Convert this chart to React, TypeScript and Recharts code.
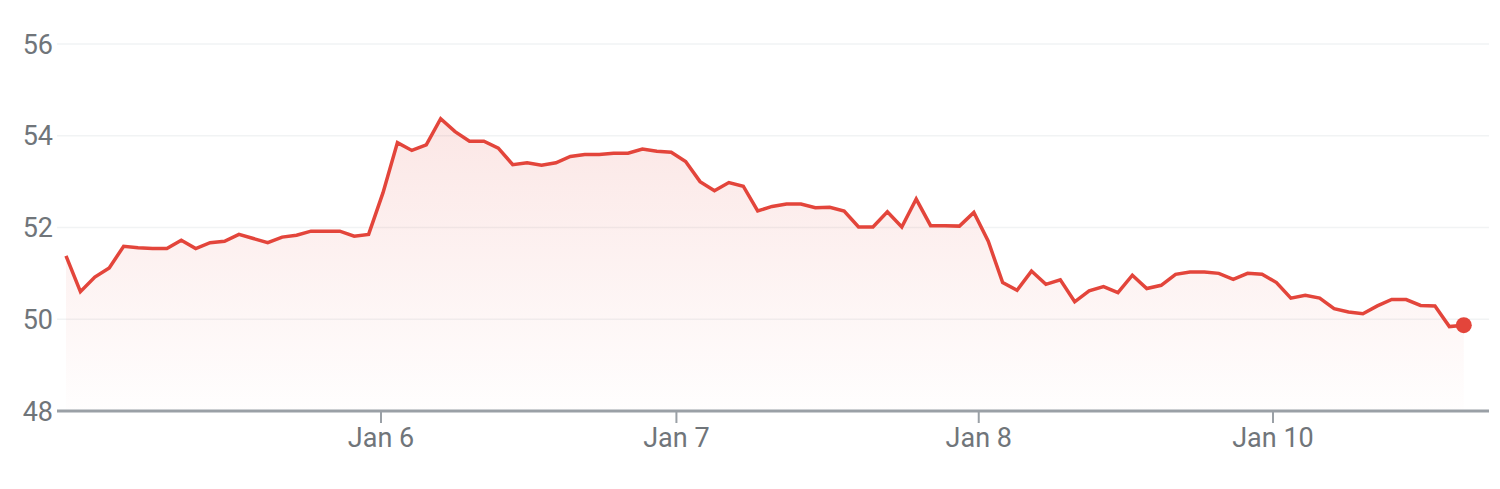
import {
  ComposedChart,
  Area,
  XAxis,
  YAxis,
  CartesianGrid,
  ReferenceDot,
} from "recharts";

// intraday closes, 5 trading days (Jan 5 – Jan 10)
const prices = [
  51.38, 50.6, 50.92, 51.12, 51.59, 51.56, 51.54, 51.54, 51.72, 51.54,
  51.67, 51.7, 51.85, 51.76, 51.67, 51.79, 51.83, 51.92, 51.92, 51.92,
  51.81, 51.85, 52.76, 53.85, 53.68, 53.8, 54.37, 54.09, 53.88, 53.88,
  53.73, 53.37, 53.41, 53.36, 53.41, 53.55, 53.59, 53.59, 53.62, 53.62,
  53.71, 53.66, 53.64, 53.44, 53.0, 52.8, 52.98, 52.9, 52.36, 52.46,
  52.51, 52.51, 52.43, 52.44, 52.36, 52.01, 52.01, 52.34, 52.01, 52.62,
  52.04, 52.04, 52.03, 52.33, 51.7, 50.8, 50.63, 51.05, 50.76, 50.86,
  50.38, 50.62, 50.71, 50.58, 50.96, 50.67, 50.74, 50.98, 51.03, 51.03,
  51.0, 50.87, 51.0, 50.98, 50.8, 50.46, 50.52, 50.46, 50.23, 50.16,
  50.12, 50.29, 50.43, 50.43, 50.3, 50.29, 49.84, 49.87,
];

// day boundaries, in sample-index units
const dayTickPositions = [21.86, 42.36, 63.34, 83.76];
const dayTickLabels = ["Jan 6", "Jan 7", "Jan 8", "Jan 10"];

const priceTicks = [48, 50, 52, 54, 56];

const RED = "#e3453b";
const GREY_TEXT = "#70757a";

const chartData = prices.map((p, i) => ({ i, price: p }));
const lastIdx = prices.length - 1;

export default function App() {
  return (
    <div style={{ width: 1500, height: 489, background: "#fff" }}>
      <style>{"body{margin:0}"}</style>
      <ComposedChart
        width={1500}
        height={489}
        data={chartData}
        margin={{ top: 44, right: 11, bottom: 48, left: 0 }}
      >
        <defs>
          <linearGradient id="priceFill" x1="0" y1="0" x2="0" y2="1">
            <stop offset="0%" stopColor={RED} stopOpacity={0.22} />
            <stop offset="100%" stopColor={RED} stopOpacity={0.01} />
          </linearGradient>
        </defs>
        <CartesianGrid vertical={false} stroke="#f1f3f4" strokeWidth={1.5} />
        <XAxis
          dataKey="i"
          type="number"
          domain={[-0.625, 98.75]}
          allowDataOverflow
          ticks={dayTickPositions}
          interval={0}
          tickFormatter={(v: number) => dayTickLabels[dayTickPositions.indexOf(v)] ?? ""}
          height={30}
          axisLine={{ stroke: "#9aa0a6", strokeWidth: 3 }}
          tickLine={{ stroke: "#9aa0a6", strokeWidth: 2 }}
          tickSize={12}
          tickMargin={5}
          tick={{ fill: GREY_TEXT, fontSize: 27, fontFamily: "Roboto" }}
        />
        <YAxis
          domain={[48, 56]}
          ticks={priceTicks}
          width={57}
          axisLine={false}
          tickLine={false}
          tickSize={0}
          tickMargin={4}
          tick={{ fill: GREY_TEXT, fontSize: 27, fontFamily: "Roboto" }}
        />
        <Area
          type="linear"
          dataKey="price"
          stroke={RED}
          strokeWidth={3.5}
          fill="url(#priceFill)"
          baseValue={48}
          dot={false}
          activeDot={false}
          isAnimationActive={false}
        />
        <ReferenceDot
          x={lastIdx}
          y={prices[lastIdx]}
          r={8}
          fill={RED}
          stroke="none"
        />
      </ComposedChart>
    </div>
  );
}
